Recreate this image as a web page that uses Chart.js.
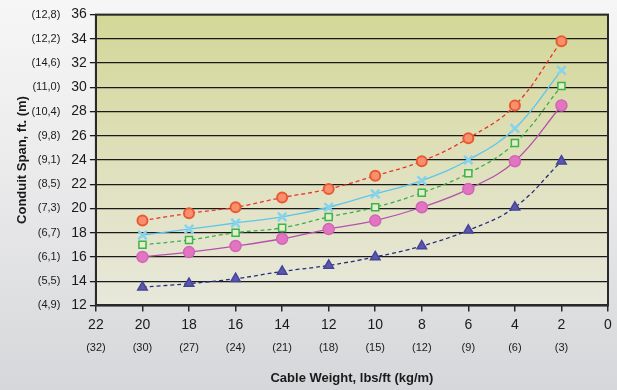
<!DOCTYPE html>
<html>
<head>
<meta charset="utf-8">
<script src="https://cdn.jsdelivr.net/npm/chart.js@4"></script>
<style>
  html, body { margin: 0; padding: 0; }
  body { width: 617px; height: 390px; background: linear-gradient(to bottom, #f6f6f6 0%, #ececed 40%, #d6d7da 100%); }
  #wrap { position: relative; width: 617px; height: 390px; }
</style>
</head>
<body>
<div id="wrap"><canvas id="c" width="617" height="390"></canvas></div>
<script>
// Cable weight (lbs/ft) categories
const weights = [20, 18, 16, 14, 12, 10, 8, 6, 4, 2];
// Conduit span (ft) for each series
const seriesRed    = [19.0, 19.6, 20.1, 20.9, 21.6, 22.7, 23.9, 25.8, 28.5, 33.8];
const seriesCyan   = [17.8, 18.3, 18.8, 19.3, 20.1, 21.2, 22.3, 24.0, 26.6, 31.4];
const seriesGreen  = [17.0, 17.4, 18.0, 18.4, 19.3, 20.1, 21.3, 22.9, 25.4, 30.1];
const seriesPink   = [16.0, 16.4, 16.9, 17.5, 18.3, 19.0, 20.1, 21.6, 23.9, 28.5];
const seriesNavy   = [13.5, 13.8, 14.2, 14.8, 15.3, 16.0, 16.9, 18.2, 20.1, 23.9];
// Tick labels
const xMetricLabels = {22: '(32)', 20: '(30)', 18: '(27)', 16: '(24)', 14: '(21)', 12: '(18)', 10: '(15)', 8: '(12)', 6: '(9)', 4: '(6)', 2: '(3)', 0: ''};
const yMetricLabels = {36: '(12,8)', 34: '(12,2)', 32: '(14,6)', 30: '(11,0)', 28: '(10,4)', 26: '(9,8)', 24: '(9,1)', 22: '(8,5)', 20: '(7,3)', 18: '(6,7)', 16: '(6,1)', 14: '(5,5)', 12: '(4,9)'};
const xTitle = 'Cable Weight, lbs/ft (kg/m)';
const yTitle = 'Conduit Span, ft. (m)';

const pts = arr => weights.map((w, i) => ({x: w, y: arr[i]}));

const bgPlugin = {
  id: 'bgPlugin',
  beforeDraw(chart) {
    const {ctx, chartArea: a} = chart;
    const g = ctx.createLinearGradient(0, a.top, 0, a.bottom);
    g.addColorStop(0, '#d3d797');
    g.addColorStop(0.5, '#dfe0bb');
    g.addColorStop(1, '#e8e8dc');
    ctx.save();
    ctx.fillStyle = g;
    ctx.fillRect(a.left, a.top, a.right - a.left, a.bottom - a.top);
    ctx.restore();
  },
  beforeDatasetsDraw(chart) {
    const {ctx, chartArea: a} = chart;
    ctx.save();
    ctx.strokeStyle = '#2a2a2a';
    ctx.lineWidth = 2;
    ctx.strokeRect(a.left, a.top, a.right - a.left, a.bottom - a.top);
    ctx.restore();
  }
};

const font = 'Liberation Sans, Arial, sans-serif';

new Chart(document.getElementById('c'), {
  type: 'line',
  data: {
    datasets: [
      { data: pts(seriesRed), borderColor: '#e8352a', borderWidth: 1.3, borderDash: [4, 3],
        pointStyle: 'circle', pointRadius: 5, pointBackgroundColor: '#f89070', pointBorderColor: '#ea5a30', pointBorderWidth: 2, tension: 0.4 },
      { data: pts(seriesCyan), borderColor: '#5cc6ea', borderWidth: 1.3,
        pointStyle: 'crossRot', pointRadius: 6, pointBorderColor: '#86d3ee', pointBorderWidth: 2.5, tension: 0.4 },
      { data: pts(seriesGreen), borderColor: '#38b048', borderWidth: 1.3, borderDash: [4, 3],
        pointStyle: 'rect', pointRadius: 5, pointBackgroundColor: '#e2efcc', pointBorderColor: '#3cb44a', pointBorderWidth: 1.5, tension: 0.4 },
      { data: pts(seriesPink), borderColor: '#b452aa', borderWidth: 1.3,
        pointStyle: 'circle', pointRadius: 5.5, pointBackgroundColor: '#e274c2', pointBorderColor: '#d066b6', pointBorderWidth: 1.5, tension: 0.4 },
      { data: pts(seriesNavy), borderColor: '#262c80', borderWidth: 1.3, borderDash: [4, 3],
        pointStyle: 'triangle', pointRadius: 5.5, pointBackgroundColor: '#5a58aa', pointBorderColor: '#45449a', pointBorderWidth: 1.5, tension: 0.4 }
    ]
  },
  options: {
    responsive: false,
    animation: false,
    layout: { padding: { top: -4, right: 9, left: 13, bottom: 2 } },
    plugins: { legend: { display: false }, tooltip: { enabled: false } },
    scales: {
      x: {
        type: 'linear', position: 'bottom', reverse: true, min: 0, max: 22, weight: 0,
        ticks: { stepSize: 2, color: '#1a1a1a', font: { family: font, size: 14 }, padding: 5, maxRotation: 0 },
        grid: { drawOnChartArea: false, drawTicks: true, tickLength: 6, color: '#2a2a2a', lineWidth: 1.5 },
        border: { color: '#2a2a2a', width: 2 }
      },
      x2: {
        type: 'linear', position: 'bottom', reverse: true, min: 0, max: 22, weight: 1,
        ticks: { stepSize: 2, color: '#1a1a1a', font: { family: font, size: 11 }, padding: 3, maxRotation: 0,
                 callback: v => xMetricLabels[v] ?? '' },
        grid: { display: false, drawTicks: false, tickLength: 0 }, border: { display: false },
        title: { display: true, text: xTitle, color: '#1a1a1a', font: { family: font, size: 13, weight: 'bold' }, padding: { top: 13, bottom: 2 } }
      },
      y: {
        type: 'linear', position: 'left', min: 12, max: 36, weight: 0,
        ticks: { stepSize: 2, color: '#1a1a1a', font: { family: font, size: 14 }, padding: 3 },
        grid: { color: '#1a1a1a', lineWidth: 1.3, tickLength: 6, drawTicks: true },
        border: { color: '#2a2a2a', width: 2 }
      },
      y2: {
        type: 'linear', position: 'left', min: 12, max: 36, weight: 1,
        ticks: { stepSize: 2, color: '#1a1a1a', font: { family: font, size: 11 }, padding: 8,
                 callback: v => yMetricLabels[v] ?? '' },
        grid: { display: false, drawTicks: false, tickLength: 0 }, border: { display: false },
        title: { display: true, text: yTitle, color: '#1a1a1a', font: { family: font, size: 13, weight: 'bold' }, padding: { top: 2, bottom: -7 } }
      }
    }
  },
  plugins: [bgPlugin]
});
</script>
</body>
</html>
